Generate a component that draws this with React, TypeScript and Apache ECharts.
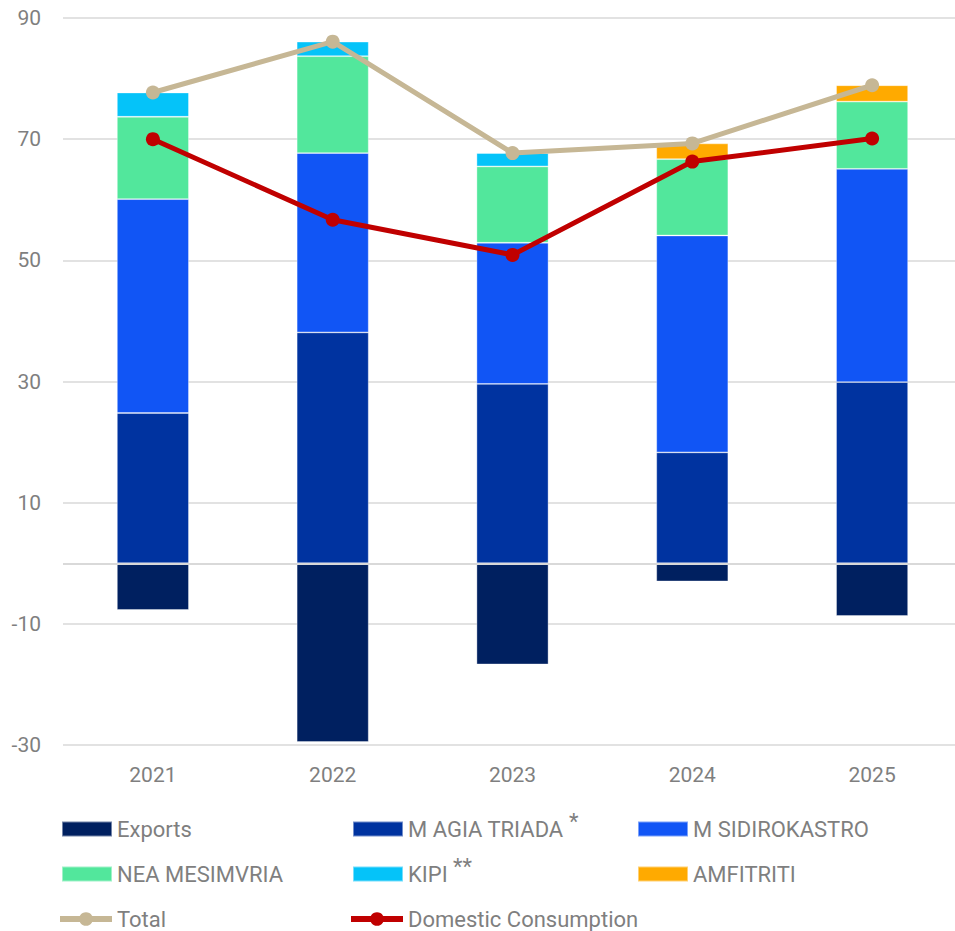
import React, { useEffect, useRef } from "react";
import * as echarts from "echarts";

const years = ["2021", "2022", "2023", "2024", "2025"];
const exportsVals = [-7.7, -29.5, -16.7, -3.0, -8.7];
const agiaTriada = [24.8, 38.1, 29.6, 18.3, 29.9];
const sidirokastro = [35.3, 29.6, 23.3, 35.8, 35.2];
const neaMesimvria = [13.6, 16.0, 12.6, 12.6, 11.1];
const kipi = [4.0, 2.4, 2.2, 0, 0];
const amfitriti = [0, 0, 0, 2.6, 2.7];
const total = [77.7, 86.1, 67.7, 69.3, 78.9];
const domestic = [70.0, 56.7, 50.9, 66.3, 70.1];
const yTicks = [-30, -10, 10, 30, 50, 70, 90];

const FONT = "Roboto, 'Liberation Sans', sans-serif";
const GREY = "#7f7f7f";

export default function App() {
  const ref = useRef<HTMLDivElement>(null);
  useEffect(() => {
    if (!ref.current) return;
    const chart = echarts.init(ref.current, null, { renderer: "svg" });

    const barSeries = (name: string, data: number[], color: string) => ({
      name,
      type: "bar",
      stack: "s",
      data: data.map((v) => (v === 0 ? null : v)),
      barWidth: 72,
      itemStyle: { color, borderColor: "rgba(255,255,255,0.45)", borderWidth: 0.8 },
      emphasis: { disabled: true },
    });

    const lineSeries = (name: string, data: number[], color: string) => ({
      name,
      type: "line",
      data,
      symbol: "circle",
      symbolSize: 14,
      lineStyle: { color, width: 5 },
      itemStyle: { color },
      z: 5,
      emphasis: { disabled: true },
    });

    const fmt = (name: string) => {
      const m = name.match(/^(.*?)(\*+)$/);
      if (m) return `{n|${m[1]}}{s|${m[2]}}`;
      return `{n|${name}}`;
    };

    const LFS = 22;
    const mkLegend = (name: string, left: number, center: number, line: boolean) => {
      const sup = /\*$/.test(name);
      return {
        data: [name],
        left,
        top: center - LFS / 2 - (sup ? 8 : 0),
        orient: "horizontal",
        padding: 0,
        icon: line ? undefined : "rect",
        itemWidth: line ? 52 : 50,
        itemHeight: line ? 17 : 15,
        itemGap: 0,
        formatter: fmt,
        lineStyle: line ? { width: 6 } : undefined,
        textStyle: {
          fontFamily: FONT,
          fontSize: LFS,
          color: GREY,
          rich: {
            n: { fontFamily: FONT, fontSize: LFS, color: GREY },
            s: { fontFamily: FONT, fontSize: LFS, color: GREY, padding: [0, 0, 16, 0] },
          },
        },
        selectedMode: false,
      };
    };

    const option = {
      animation: false,
      grid: { left: 63, top: 18, width: 899, bottom: 186, containLabel: false },
      xAxis: {
        type: "category",
        data: years,
        axisLine: { show: false },
        axisTick: { show: false },
        axisLabel: { color: GREY, fontSize: 21, fontFamily: FONT, margin: 19 },
      },
      yAxis: {
        type: "value",
        min: -30,
        max: 90,
        interval: 20,
        axisLine: { show: false },
        axisTick: { show: false },
        axisLabel: {
          color: GREY,
          fontSize: 21,
          fontFamily: FONT,
          margin: 22,
          customValues: yTicks,
        },
        splitLine: { lineStyle: { color: "#d9d9d9", width: 1.6 } },
      },
      legend: [
        mkLegend("Exports", 61, 829, false),
        mkLegend("M AGIA TRIADA *", 352, 829, false),
        mkLegend("M SIDIROKASTRO", 637, 829, false),
        mkLegend("NEA MESIMVRIA", 61, 874, false),
        mkLegend("KIPI **", 352, 874, false),
        mkLegend("AMFITRITI", 637, 874, false),
        mkLegend("Total", 57, 919, true),
        mkLegend("Domestic Consumption", 348, 919, true),
      ],
      series: [
        {
          ...barSeries("Exports", exportsVals, "#002060"),
          markLine: {
            silent: true,
            symbol: "none",
            label: { show: false },
            lineStyle: { color: "#d9d9d9", width: 2, type: "solid" },
            data: [{ yAxis: 0 }],
            z: 4,
          },
        },
        barSeries("M AGIA TRIADA *", agiaTriada, "#0033a0"),
        barSeries("M SIDIROKASTRO", sidirokastro, "#1155f5"),
        barSeries("NEA MESIMVRIA", neaMesimvria, "#52e79c"),
        barSeries("KIPI **", kipi, "#05c3f9"),
        barSeries("AMFITRITI", amfitriti, "#ffaa00"),
        lineSeries("Total", total, "#c6b795"),
        lineSeries("Domestic Consumption", domestic, "#c00000"),
      ],
    };

    chart.setOption(option as any);
    return () => chart.dispose();
  }, []);

  return (
    <div
      style={{ position: "fixed", left: 0, top: 0, width: 955, height: 931, overflow: "hidden", background: "#fff" }}
    >
      <div ref={ref} style={{ width: 962, height: 931 }} />
    </div>
  );
}
